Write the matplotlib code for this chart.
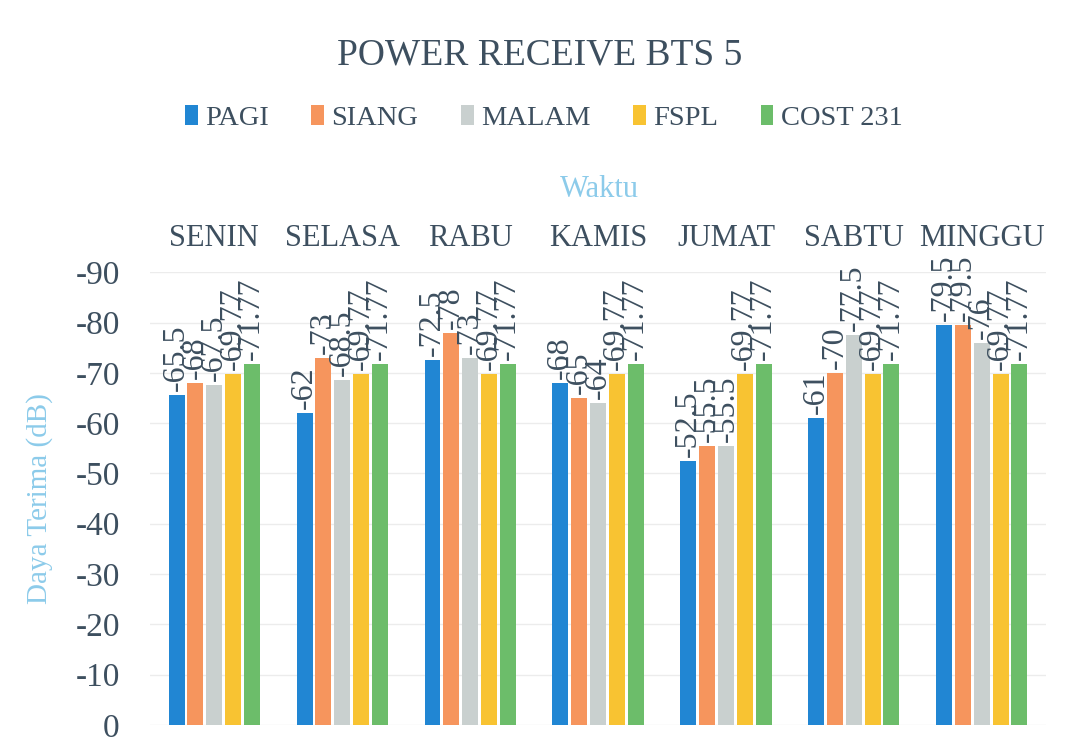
import numpy as np
import matplotlib
matplotlib.use('Agg')
import matplotlib.pyplot as plt

hari = ['SENIN', 'SELASA', 'RABU', 'KAMIS', 'JUMAT', 'SABTU', 'MINGGU']
pagi = [-65.5, -62, -72.5, -68, -52.5, -61, -79.5]
siang = [-68, -73, -78, -65, -55.5, -70, -79.5]
malam = [-67.5, -68.5, -73, -64, -55.5, -77.5, -76]
fspl = [-69.77] * 7
cost231 = [-71.77] * 7

series = [('PAGI', pagi, '#2186d3'),
          ('SIANG', siang, '#f6955d'),
          ('MALAM', malam, '#c9d0cf'),
          ('FSPL', fspl, '#f8c332'),
          ('COST 231', cost231, '#6cbd6a')]

plt.rcParams['font.family'] = ['Liberation Serif', 'DejaVu Serif']
txt = '#3d4f5f'

fig = plt.figure(figsize=(10.66, 7.52), dpi=100)
ax = fig.add_axes([0.141, 0.036, 0.840, 0.602])

x = np.arange(len(hari))
w = 0.125
step = 0.147
for i, (name, vals, col) in enumerate(series):
    pos = x + (i - 2) * step
    ax.bar(pos, vals, width=w, color=col, label=name, zorder=3)
    for p, v in zip(pos, vals):
        ax.text(p, v - 0.8, '%g' % v, rotation=90, ha='center', va='bottom',
                fontsize=23, color=txt, zorder=4)

ax.set_ylim(0, -90)
ax.set_xlim(-0.5, 6.5)
ax.set_yticks(np.arange(0, -91, -10))
ax.set_yticklabels([str(v) for v in range(0, -91, -10)])
ax.yaxis.grid(True, color='#ececec', linewidth=1, zorder=0)
ax.set_xticks(x)
ax.set_xticklabels(hari)
ax.xaxis.tick_top()
ax.tick_params(axis='x', length=0, labelsize=22, labelcolor=txt, pad=14)
ax.tick_params(axis='y', length=0, labelsize=24, labelcolor=txt, pad=22)
for s in ax.spines.values():
    s.set_visible(False)

ax.set_ylabel('Daya Terima (dB)', color='#8ccbea', fontsize=21, labelpad=16)
fig.text(0.562, 0.748, 'Waktu', color='#8ccbea', fontsize=22, ha='center', va='center')
fig.text(0.506, 0.927, 'POWER RECEIVE BTS 5', color=txt, fontsize=27, ha='center', va='center')

leg = fig.legend(loc='center', bbox_to_anchor=(0.51, 0.843), ncol=5, frameon=False,
                 fontsize=20.5, handlelength=0.45, handleheight=0.7, handletextpad=0.25,
                 columnspacing=1.5)
for t in leg.get_texts():
    t.set_color(txt)

fig.savefig('out.png', dpi=100)
